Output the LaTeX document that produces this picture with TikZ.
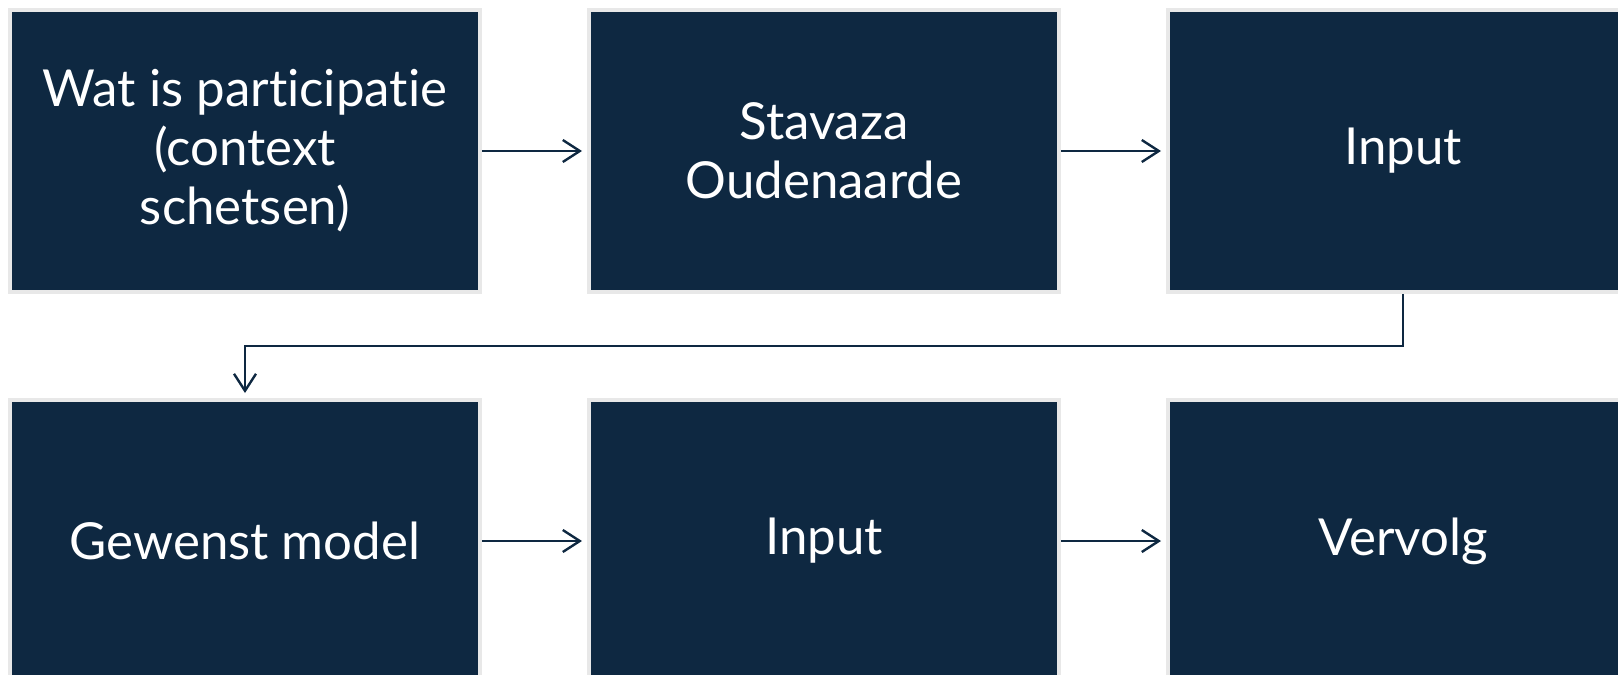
\documentclass[tikz,border=0pt]{standalone}
\usepackage{fontspec}
\setmainfont{Lato}[Ligatures={NoCommon,NoRare}]
\usetikzlibrary{arrows.meta}
\definecolor{navy}{HTML}{0E2841}
\definecolor{rim}{HTML}{E8E8E8}
\tikzset{
  stepbox/.style={draw=rim, line width=4pt, fill=navy, text=white, inner sep=0pt,
    minimum width=470pt, minimum height=282pt, align=center,
    font=\fontsize{51}{59}\selectfont},
  link/.style={draw=navy, line width=2.4pt,
    -{Straight Barb[length=17pt,width=22pt,line width=2.4pt]}, shorten >=5pt}
}
\begin{document}
\begin{tikzpicture}[x=1pt,y=-1pt]
\useasboundingbox (0,0) rectangle (1618,675);
\clip (0,0) rectangle (1618,675);
\node[stepbox] (1) at (245,151) {Wat is participatie\\(context\\schetsen)};
\node[stepbox] (2) at (824,151) {Stavaza\\Oudenaarde};
\node[stepbox] (3) at (1403,151) {Input};
\node[stepbox] (4) at (245,541) {Gewenst model};
\node[stepbox] (5) at (824,541) {Input};
\node[stepbox] (6) at (1403,541) {Vervolg};
\path[link] (1) -- (2);
\path[link] (2) -- (3);
\path[link] (3.south) |- (245,346) -- (4.north);
\path[link] (4) -- (5);
\path[link] (5) -- (6);
\end{tikzpicture}
\end{document}
